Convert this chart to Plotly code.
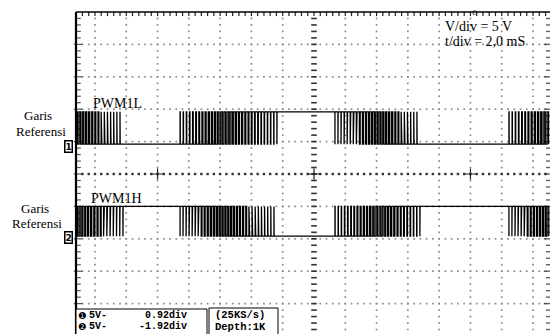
import plotly.graph_objects as go

# ---- scope settings ----
VOLT_PER_DIV = 5.0
MS_PER_DIV = 2.0
ch1_offset_div = 0.92
ch2_offset_div = -1.92
ch1_amp_v = 5.0
ch2_amp_v = 4.6

# ---- PWM1L timing (ms, screen centre = 0 ms) ----
seg_edges_ms = [-15.21, -12.2, -8.56, -2.36, 1.34, 6.78, 12.46, 15.1]
seg_state_l = ["pwm", "low", "pwm", "high", "pwm", "low", "pwm"]

# duty cycle of every carrier period inside each PWM burst of PWM1L
duty_burst_1 = [0.50, 0.47, 0.44, 0.41, 0.37, 0.34, 0.30, 0.27, 0.23, 0.20,
                0.17, 0.14, 0.11, 0.08, 0.06]
duty_burst_2 = [0.06, 0.09, 0.12, 0.15, 0.19, 0.22, 0.25, 0.29, 0.32, 0.36,
                0.39, 0.42, 0.46, 0.49, 0.52, 0.55, 0.59, 0.62, 0.65, 0.68,
                0.71, 0.74, 0.77, 0.80, 0.82, 0.85, 0.87, 0.89, 0.91, 0.93,
                0.95]
duty_burst_3 = [0.95, 0.92, 0.90, 0.87, 0.84, 0.81, 0.78, 0.75, 0.71, 0.68,
                0.64, 0.60, 0.57, 0.53, 0.49, 0.45, 0.41, 0.38, 0.34, 0.30,
                0.26, 0.23, 0.19, 0.16, 0.12, 0.09, 0.06]
duty_burst_4 = [0.06, 0.09, 0.13, 0.16, 0.20, 0.24, 0.27, 0.31, 0.34, 0.38,
                0.41, 0.44, 0.47]
duty_bursts_l = [duty_burst_1, duty_burst_2, duty_burst_3, duty_burst_4]

# ---- readout texts ----
ch_labels = ["PWM1L", "PWM1H"]
ref_label = ["Garis", "Referensi"]
scale_texts = ["V/div = 5 V", "t/div = 2,0 mS"]
readout_rows = [("\u2776", "5V-", "0.92div"), ("\u2777", "5V-", "-1.92div")]
acq_rows = ["(25KS/s)", "Depth:1K"]

# ---- screen geometry helpers (pixel -> axis units) ----
W, H = 550, 334
CX, CY = 314.0, 174.0
PXX, PXY = 31.29, 32.4


def xm(px):
    return (px - CX) / PXX * MS_PER_DIV


def yd(py):
    return (CY - py) / PXY


SCR_L, SCR_R = xm(76), xm(550)
SCR_T, SCR_B = 5.0, yd(334)


def build_wave(states, bursts, base, top, invert=False):
    xs, ys = [], []
    bi = 0
    for i, st in enumerate(states):
        t0, t1 = seg_edges_ms[i], seg_edges_ms[i + 1]
        if st == "pwm":
            duties = bursts[bi]
            bi += 1
            per = (t1 - t0) / len(duties)
            for k, d in enumerate(duties):
                if invert:
                    d = 1.0 - d
                ta = t0 + k * per
                tb = ta + d * per
                xs += [ta, ta, tb, tb]
                ys += [base, top, top, base]
        else:
            hi = (st == "high") != invert
            lvl = top if hi else base
            xs += [t0, t1]
            ys += [lvl, lvl]
    return xs, ys


x1, y1 = build_wave(seg_state_l, duty_bursts_l, ch1_offset_div,
                    ch1_offset_div + ch1_amp_v / VOLT_PER_DIV)
x2, y2 = build_wave(seg_state_l, duty_bursts_l, ch2_offset_div,
                    ch2_offset_div + ch2_amp_v / VOLT_PER_DIV, invert=True)

fig = go.Figure()

# ---- graticule dots ----
gx, gy = [], []
for k in range(-7, 8):
    if k == 0:
        continue
    for m in range(-25, 26):
        y = m / 5
        if SCR_B < y < SCR_T:
            gx.append(k * MS_PER_DIV)
            gy.append(y)
for j in range(-4, 5):
    if j == 0:
        continue
    for m in range(-38, 38):
        x = m / 5 * MS_PER_DIV
        if SCR_L + 0.2 < x < SCR_R:
            gx.append(x)
            gy.append(j)
fig.add_trace(go.Scatter(x=gx, y=gy, mode="markers", hoverinfo="skip",
                         marker=dict(symbol="square", size=1.7, color="#8a8a8a",
                                     line=dict(width=0))))

# centre axes with fine ticks
cvx, cvy = [], []
for m in range(-25, 26):
    y = m / 5
    if SCR_B < y < SCR_T:
        cvx.append(0.0)
        cvy.append(y)
fig.add_trace(go.Scatter(x=cvx, y=cvy, mode="markers", hoverinfo="skip",
                         marker=dict(symbol="line-ew", size=4,
                                     line=dict(width=1.6, color="#333"))))
chx, chy = [], []
for m in range(-38, 38):
    x = m / 5 * MS_PER_DIV
    if SCR_L + 0.2 < x < SCR_R:
        chx.append(x)
        chy.append(0.0)
fig.add_trace(go.Scatter(x=chx, y=chy, mode="markers", hoverinfo="skip",
                         marker=dict(symbol="square", size=2.4, color="#333",
                                     line=dict(width=0))))
fig.add_trace(go.Scatter(x=[-5 * MS_PER_DIV, 0, 5 * MS_PER_DIV], y=[0, 0, 0],
                         mode="markers", hoverinfo="skip",
                         marker=dict(symbol="cross-thin", size=8,
                                     line=dict(width=1.2, color="#222"))))

# ---- border ticks ----
ltx, lty, lsz = [], [], []
rtx, rty, rsz = [], [], []
for m in range(-25, 26):
    y = m / 5
    if SCR_B < y < SCR_T:
        major = (m % 5 == 0)
        ltx.append(SCR_L + 2.0 / PXX * MS_PER_DIV)
        lty.append(y)
        lsz.append(6 if major else 4)
        rtx.append(xm(548))
        rty.append(y)
        rsz.append(6 if major else 3)
fig.add_trace(go.Scatter(x=ltx, y=lty, mode="markers", hoverinfo="skip",
                         marker=dict(symbol="line-ew", size=lsz,
                                     line=dict(width=1.2, color="#111"))))
fig.add_trace(go.Scatter(x=rtx, y=rty, mode="markers", hoverinfo="skip",
                         marker=dict(symbol="line-ew", size=rsz,
                                     line=dict(width=1.4, color="#222"))))
ttx, tty = [], []
for m in range(-38, 38):
    x = m / 5 * MS_PER_DIV
    if SCR_L + 0.2 < x < SCR_R:
        ttx.append(x)
        tty.append(SCR_T - 2.0 / PXY)
fig.add_trace(go.Scatter(x=ttx, y=tty, mode="markers", hoverinfo="skip",
                         marker=dict(symbol="line-ns", size=3,
                                     line=dict(width=1.2, color="#222"))))

# ---- channel traces ----
fig.add_trace(go.Scatter(x=x1, y=y1, mode="lines", hoverinfo="skip",
                         line=dict(color="black", width=1.3)))
fig.add_trace(go.Scatter(x=x2, y=y2, mode="lines", hoverinfo="skip",
                         line=dict(color="black", width=1.3)))

# ---- screen frame and readout boxes ----
shapes = [
    dict(type="line", x0=SCR_L, x1=SCR_L, y0=SCR_B, y1=SCR_T,
         line=dict(color="black", width=2.2), layer="above"),
    dict(type="line", x0=SCR_L, x1=SCR_R, y0=SCR_T, y1=SCR_T,
         line=dict(color="black", width=1.5), layer="above"),
    dict(type="rect", x0=SCR_L, x1=xm(207), y0=yd(309), y1=yd(345),
         line=dict(color="black", width=1), fillcolor="white", layer="above"),
    dict(type="rect", x0=xm(209), x1=xm(278), y0=yd(308), y1=yd(345),
         line=dict(color="black", width=1), fillcolor="white", layer="above"),
]

SERIF = "Liberation Serif"
MONO = "Liberation Mono"
ann = []


def txt(text, px, py, size, family=SERIF, anchor="left", color="black"):
    ann.append(dict(x=xm(px), y=yd(py), text=text, showarrow=False,
                    xanchor=anchor, yanchor="middle",
                    font=dict(family=family, size=size, color=color)))


txt(ch_labels[0], 91, 103, 14)
txt(ch_labels[1], 89, 198, 14)
txt(ref_label[0], 38, 115, 13, anchor="center")
txt(ref_label[1], 41, 131, 13, anchor="center")
txt(ref_label[0], 35, 208, 13, anchor="center")
txt(ref_label[1], 37, 223, 13, anchor="center")
txt(scale_texts[0], 443, 26, 14)
txt(scale_texts[1], 443, 41, 14)
txt("\u016a", 470, 13, 7)

# channel ground markers
for i, py in enumerate([146.5, 237.5]):
    ann.append(dict(x=xm(68.5), y=yd(py), text="<b>%d</b>" % (i + 1),
                    showarrow=False, xanchor="center", yanchor="middle",
                    font=dict(family="DejaVu Sans", size=9, color="black"),
                    bordercolor="black", borderwidth=1.5, borderpad=0,
                    bgcolor="white"))

for r, (sym, volt, pos) in enumerate(readout_rows):
    py = 315 + r * 11.5
    txt(sym, 82, py, 9.5, family="DejaVu Sans", anchor="center")
    txt("<b>" + volt + "</b>", 87, py, 10, family=MONO)
    txt("<b>" + pos + "</b>", 189, py, 10, family=MONO, anchor="right")
    txt("<b>" + acq_rows[r] + "</b>", 213, py, 10.5, family=MONO)

fig.update_layout(
    width=W, height=H,
    margin=dict(l=0, r=0, t=0, b=0),
    paper_bgcolor="white", plot_bgcolor="white",
    showlegend=False,
    xaxis=dict(range=[xm(0), xm(W)], visible=False, fixedrange=True),
    yaxis=dict(range=[yd(H), yd(0)], visible=False, fixedrange=True),
    shapes=shapes, annotations=ann,
)

fig.write_html("out.html")
